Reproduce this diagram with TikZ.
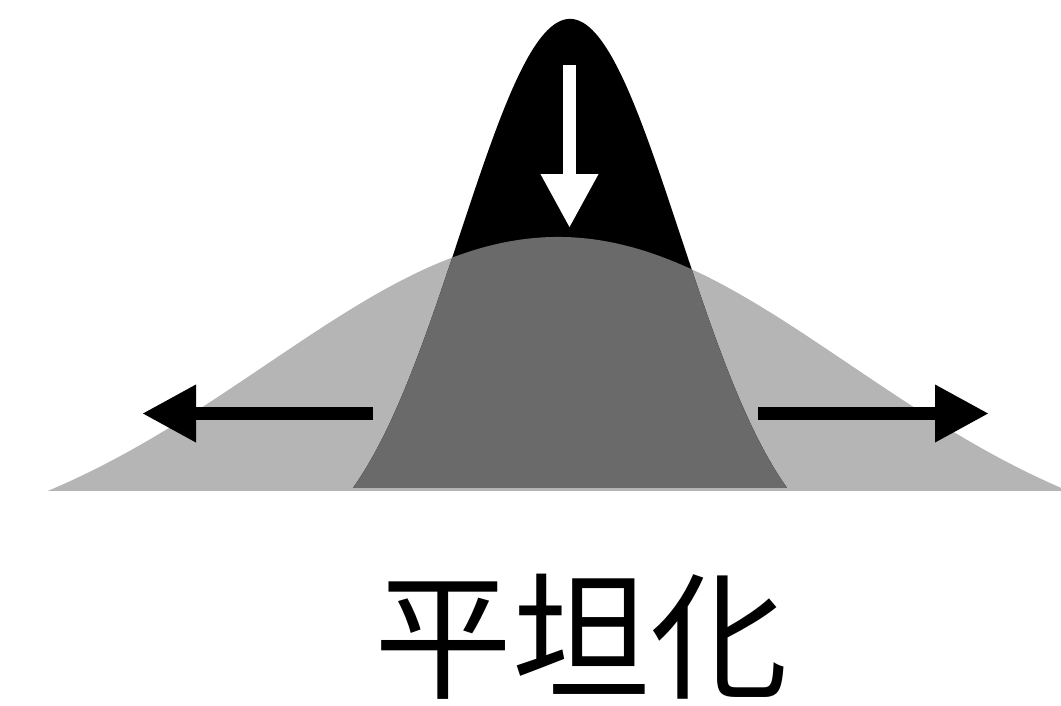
\documentclass[tikz,border=0pt]{standalone}
\usepackage{fontspec}
\newfontfamily\cjk{Noto Sans CJK JP}
\usetikzlibrary{arrows.meta}
\definecolor{lightgr}{HTML}{B5B5B5}
\definecolor{darkgr}{HTML}{6A6A6A}
\tikzset{
  blockarrow/.style={line width=13pt, -{Triangle[length=54pt,width=54pt]}},
  titletext/.style={font=\cjk\fontsize{138}{138}\selectfont, inner sep=0pt}
}
\begin{document}
\begin{tikzpicture}[x=1pt,y=-1pt]
\useasboundingbox (0,0) rectangle (1061,705);
\def\graypath{plot[domain=-5.1:5.1,samples=200] ({558+100*\x},{561-324*exp(-\x*\x/17.0)}) -- cycle}
\def\blackpath{plot[domain=-2.17:2.17,samples=200] ({570+100*\x},{566-547*exp(-\x*\x/2.42)}) -- cycle}
% wide distribution
\fill[lightgr] \graypath;
% narrow distribution
\fill[black] \blackpath;
% overlap
\begin{scope}
  \clip \blackpath;
  \fill[darkgr] \graypath;
\end{scope}
% arrows
\coordinate (downS) at (569.5,65);
\coordinate (downE) at (569.5,228);
\coordinate (leftS) at (373,413.5);
\coordinate (leftE) at (142,413.5);
\coordinate (rightS) at (758,413.5);
\coordinate (rightE) at (989,413.5);
\draw[blockarrow, white] (downS) -- (downE);
\draw[blockarrow, black] (leftS) -- (leftE);
\draw[blockarrow, black] (rightS) -- (rightE);
% caption
\node[titletext] (title) at (581,637) {平坦化};
\end{tikzpicture}
\end{document}
